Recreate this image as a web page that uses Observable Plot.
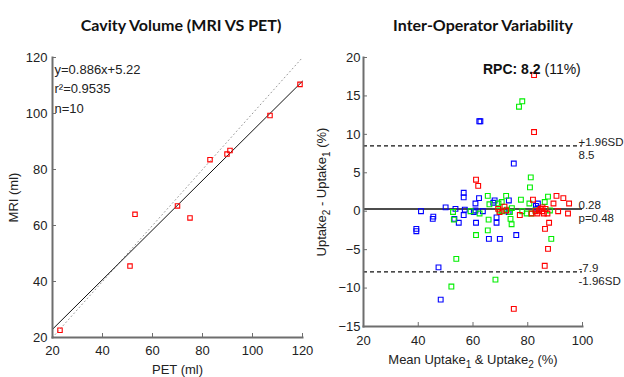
<!DOCTYPE html>
<html><head><meta charset="utf-8">
<script src="https://cdn.jsdelivr.net/npm/d3@7"></script>
<script src="https://cdn.jsdelivr.net/npm/@observablehq/plot@0.6"></script>
<style>
body{margin:0;background:#fff;}
#root{position:relative;width:624px;height:377px;overflow:hidden;background:#fff;font-family:"Liberation Sans",Arial,sans-serif;}
.title{position:absolute;font-family:Lato,"Open Sans",sans-serif;font-weight:bold;font-size:16px;line-height:16px;white-space:nowrap;transform:translateX(-50%);color:#111;}
#rpc{position:absolute;left:483px;top:62px;font-size:14px;line-height:14px;white-space:nowrap;color:#111;}
.chart{position:absolute;top:0;}
</style></head><body><div id="root"></div>
<script>
// ---------- Left chart: Cavity Volume (MRI VS PET) ----------
const petVolume = [23, 51, 53, 70, 75, 83, 89.8, 91, 107, 119];
const mriVolume = [22.6, 45.5, 64, 67, 62.7, 83.5, 85.5, 86.8, 99.3, 110.4];
const fitSlope = 0.886, fitIntercept = 5.22, fitR2 = 0.9535;
const volumeTicks = [20, 40, 60, 80, 100, 120];

// ---------- Right chart: Inter-Operator Variability (Bland-Altman) ----------
const blueMean = [39.3, 39.3, 41.0, 45.3, 45.5, 50.0, 47.4, 48.2, 53.6, 53.2, 54.8, 56.6, 56.6, 57.0, 56.6, 60.9, 60.9, 61.1, 62.3, 62.7, 62.2, 63.6, 65.8, 67.4, 67.9, 68.6, 68.6, 69.8, 73.1, 73.0, 74.9, 75.8, 83.0, 83.7, 83.5, 60.3];
const blueDiff = [-2.6, -2.3, 0.0, -1.0, -0.7, 0.5, -7.3, -11.5, 0.3, -1.0, -1.5, 2.4, 1.8, 0.2, -0.5, 1.0, 0.1, -1.5, 11.7, 11.7, 1.7, 0.0, -3.6, 1.1, 1.4, -0.8, -1.5, -3.6, 1.4, -0.1, 6.2, -3.1, 0.7, 1.0, 0.3, -0.1];
const greenMean = [52.1, 53.9, 52.7, 53.0, 59.1, 61.1, 62.4, 65.4, 65.7, 65.4, 66.0, 68.2, 69.3, 69.7, 70.5, 70.7, 72.1, 72.4, 73.5, 73.7, 74.1, 74.2, 76.8, 78.0, 77.5, 78.0, 79.6, 80.6, 81.1, 80.8, 81.3, 82.8, 86.2, 87.4, 88.6, 88.1];
const greenDiff = [-9.8, -6.2, -0.1, -1.1, 0.0, -3.1, -0.3, 2.0, -1.1, -2.5, 0.9, -8.9, 1.0, 0.1, 1.2, 0.0, 2.0, 0.2, -0.1, -1.0, -1.7, 0.4, 13.6, 14.3, 1.5, 0.0, -0.3, 1.0, 4.4, 3.1, -0.3, 0.1, 1.2, 1.9, -3.6, 0.1];
const redMean = [61.1, 61.9, 69.2, 69.7, 71.5, 72.1, 74.9, 77.1, 82.3, 82.3, 81.9, 81.4, 82.9, 84.1, 84.7, 85.3, 85.9, 86.3, 86.2, 87.4, 87.8, 87.2, 89.4, 90.5, 91.1, 93.0, 94.7, 95.1, 83.5, 86.5, 85.4];
const redDiff = [4.1, 3.3, 0.3, -0.1, 0.6, 0.1, -12.7, -0.5, 17.7, 10.3, 1.5, -0.3, 0.0, 0.1, 0.3, 0.0, -0.3, -2.3, -7.1, -4.9, -1.5, -0.3, 1.0, 2.0, 0.0, 1.7, -0.3, 1.0, -0.3, 0.3, 0.5];
const meanBias = 0.28, pValue = 0.48, upperLoA = 8.5, lowerLoA = -7.9;
const rpcValue = 8.2, rpcPercent = 11;
const meanTicks = [20, 40, 60, 80, 100];
const diffTicks = [-15, -10, -5, 0, 5, 10, 15, 20];

const axisGray = "#6e6e6e";
const baseStyle = {background: "transparent", overflow: "visible", fontFamily: "Liberation Sans, Arial, sans-serif", fontSize: "13px", color: "#222"};

const root = document.getElementById("root");

// Left chart
const volumeData = petVolume.map((x, i) => ({x, y: mriVolume[i]}));
const identity = [{x: volumeTicks[0], y: volumeTicks[0]}, {x: volumeTicks[volumeTicks.length - 1], y: volumeTicks[volumeTicks.length - 1]}];
const fitLine = identity.map(d => ({x: d.x, y: fitSlope * d.x + fitIntercept}));

const left = Plot.plot({
  width: 320, height: 377,
  marginLeft: 52, marginRight: 18, marginTop: 57, marginBottom: 40,
  style: baseStyle,
  x: {domain: [20, 120]},
  y: {domain: [20, 120]},
  marks: [
    Plot.line(identity, {x: "x", y: "y", stroke: "#9a9a9a", strokeWidth: 1, strokeDasharray: "1,3"}),
    Plot.line(fitLine, {x: "x", y: "y", stroke: "#111", strokeWidth: 1}),
    Plot.dot(volumeData, {x: "x", y: "y", symbol: "square", r: 2.5, stroke: "#ff0000", strokeWidth: 1.1, fill: "none"}),
    Plot.text([`y=${fitSlope}x+${fitIntercept}\nr²=${fitR2}\nn=${petVolume.length}`], {frameAnchor: "top-left", textAnchor: "start", lineAnchor: "top", dx: 2, dy: 3, lineHeight: 1.48, fontSize: 13, fill: "#222"}),
    Plot.frame({anchor: "left", stroke: axisGray, strokeWidth: 2}),
    Plot.frame({anchor: "bottom", stroke: axisGray, strokeWidth: 2}),
    Plot.axisX({ticks: volumeTicks, tickSize: -4, tickPadding: 12, stroke: axisGray, fontSize: 13, label: "PET (ml)", labelAnchor: "center", labelArrow: "none", labelOffset: 36}),
    Plot.axisY({ticks: volumeTicks, tickSize: -4, tickPadding: 9, stroke: axisGray, fontSize: 13, label: "MRI (ml)", labelAnchor: "center", labelArrow: "none", labelOffset: 44})
  ]
});
left.classList.add("chart");
left.style.left = "0px";
root.appendChild(left);

// Right chart
const pts = [
  ...blueMean.map((x, i) => ({x, y: blueDiff[i], c: "#0000ff"})),
  ...greenMean.map((x, i) => ({x, y: greenDiff[i], c: "#00ee00"})),
  ...redMean.map((x, i) => ({x, y: redDiff[i], c: "#ff0000"}))
];
const limits = [
  {y: upperLoA, above: "+1.96SD", below: `${upperLoA}`},
  {y: meanBias, above: `${meanBias}`, below: `p=${pValue}`},
  {y: lowerLoA, above: `${lowerLoA}`, below: "-1.96SD"}
];
const yLabel = "Uptake₂ - Uptake₁ (%)";
const xLabel = "Mean Uptake₁ & Uptake₂ (%)";

const right = Plot.plot({
  width: 324, height: 377,
  marginLeft: 63, marginRight: 42, marginTop: 57, marginBottom: 51,
  style: baseStyle,
  x: {domain: [20, 100]},
  y: {domain: [-15, 20]},
  marks: [
    Plot.ruleY([upperLoA, lowerLoA], {stroke: "#111", strokeWidth: 1.2, strokeDasharray: "4,3"}),
    Plot.ruleY([meanBias], {stroke: "#111", strokeWidth: 1.6}),
    Plot.dot(pts, {x: "x", y: "y", symbol: "square", r: 2.7, stroke: "c", strokeWidth: 1.1, fill: "none"}),
    Plot.text(limits, {y: "y", text: "above", frameAnchor: "right", textAnchor: "start", lineAnchor: "bottom", dx: -4, dy: 0, fontSize: 11.5, fill: "#222"}),
    Plot.text(limits, {y: "y", text: "below", frameAnchor: "right", textAnchor: "start", lineAnchor: "top", dx: -4, dy: 5, fontSize: 11.5, fill: "#222"}),
    Plot.frame({anchor: "left", stroke: axisGray, strokeWidth: 2}),
    Plot.frame({anchor: "bottom", stroke: axisGray, strokeWidth: 2}),
    Plot.axisX({ticks: meanTicks, tickSize: -4, tickPadding: 13, stroke: axisGray, fontSize: 13, label: xLabel, labelAnchor: "center", labelArrow: "none", labelOffset: 37}),
    Plot.axisY({ticks: diffTicks, tickSize: -4, tickPadding: 7, stroke: axisGray, fontSize: 13, label: yLabel, labelAnchor: "center", labelArrow: "none", labelOffset: 47})
  ]
});
right.classList.add("chart");
right.style.left = "300px";
root.appendChild(right);

// subscripts in axis labels
function subscriptify(svg, label, html) {
  d3.select(svg).selectAll("text").filter(function() { return this.textContent === label; }).each(function() {
    const t = d3.select(this);
    const target = t.selectAll("tspan").empty() ? t : t.select("tspan");
    target.html(html);
  });
}
const sub = n => `<tspan dy="4" font-size="10">${n}</tspan><tspan dy="-4">`;
subscriptify(right, yLabel, `Uptake${sub(2)} - Uptake${sub(1)} (%)</tspan></tspan>`);
subscriptify(right, xLabel, `Mean Uptake${sub(1)} &amp; Uptake${sub(2)} (%)</tspan></tspan>`);

// titles and RPC annotation
const t1 = document.createElement("div"); t1.className = "title"; t1.style.left = "181px"; t1.style.top = "17px"; t1.textContent = "Cavity Volume (MRI VS PET)"; root.appendChild(t1);
const t2 = document.createElement("div"); t2.className = "title"; t2.style.left = "483px"; t2.style.top = "17px"; t2.textContent = "Inter-Operator Variability"; root.appendChild(t2);
const rpc = document.createElement("div"); rpc.id = "rpc";
rpc.innerHTML = `<b>RPC: ${rpcValue}</b> (${rpcPercent}%)`;
root.appendChild(rpc);
</script></body></html>
